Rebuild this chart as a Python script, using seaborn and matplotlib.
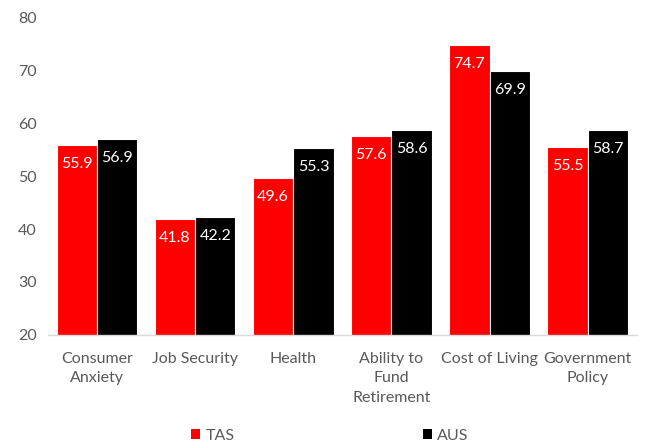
import matplotlib
matplotlib.use("Agg")
import matplotlib.pyplot as plt
import seaborn as sns
import pandas as pd
from matplotlib.patches import Patch

categories = ["Consumer\nAnxiety", "Job Security", "Health",
              "Ability to\nFund\nRetirement", "Cost of Living", "Government\nPolicy"]
tas_values = [55.9, 41.8, 49.6, 57.6, 74.7, 55.5]
aus_values = [56.9, 42.2, 55.3, 58.6, 69.9, 58.7]
series_names = ["TAS", "AUS"]
y_ticks = [20, 30, 40, 50, 60, 70, 80]

df = pd.DataFrame({
    "category": categories * 2,
    "value": tas_values + aus_values,
    "region": [series_names[0]] * len(categories) + [series_names[1]] * len(categories),
})

sns.set_theme(style="white")
plt.rcParams["font.family"] = ["Lato", "DejaVu Sans"]

fig = plt.figure(figsize=(6.49, 4.44), dpi=100)
ax = fig.add_axes([0.074, 0.2455, 0.907, 0.7162])

palette = {"TAS": "#ff0000", "AUS": "#000000"}
sns.barplot(data=df, x="category", y="value", hue="region", palette=palette,
            width=0.82, ax=ax, legend=False, saturation=1,
            edgecolor="white", linewidth=0.8)

ax.set_ylim(20, 80)
ax.set_yticks(y_ticks)
ax.set_xlabel("")
ax.set_ylabel("")
for s in ["top", "right", "left"]:
    ax.spines[s].set_visible(False)
ax.spines["bottom"].set_color("#d9d9d9")
ax.spines["bottom"].set_linewidth(1)
ax.tick_params(axis="y", length=0, labelsize=11.5, colors="#595959", pad=8)
ax.tick_params(axis="x", length=0, labelsize=11.5, colors="#595959", pad=12)
for lbl in ax.get_xticklabels():
    lbl.set_linespacing(1.52)

for container in ax.containers:
    for bar in container:
        h = bar.get_height()
        ax.annotate(f"{h:.1f}", (bar.get_x() + bar.get_width() / 2, h),
                    xytext=(0, -19), textcoords="offset pixels",
                    ha="center", va="center", color="white", fontsize=11.5)

handles = [Patch(facecolor=palette[n], edgecolor="none", label=n) for n in series_names]
leg = fig.legend(handles=handles, loc="center", bbox_to_anchor=(0.508, 0.018),
                 ncol=2, frameon=False, fontsize=11.5, handlelength=0.6, handleheight=0.6,
                 handletextpad=0.3, columnspacing=11.8, labelcolor="#595959")

fig.savefig("out.png", dpi=100)
